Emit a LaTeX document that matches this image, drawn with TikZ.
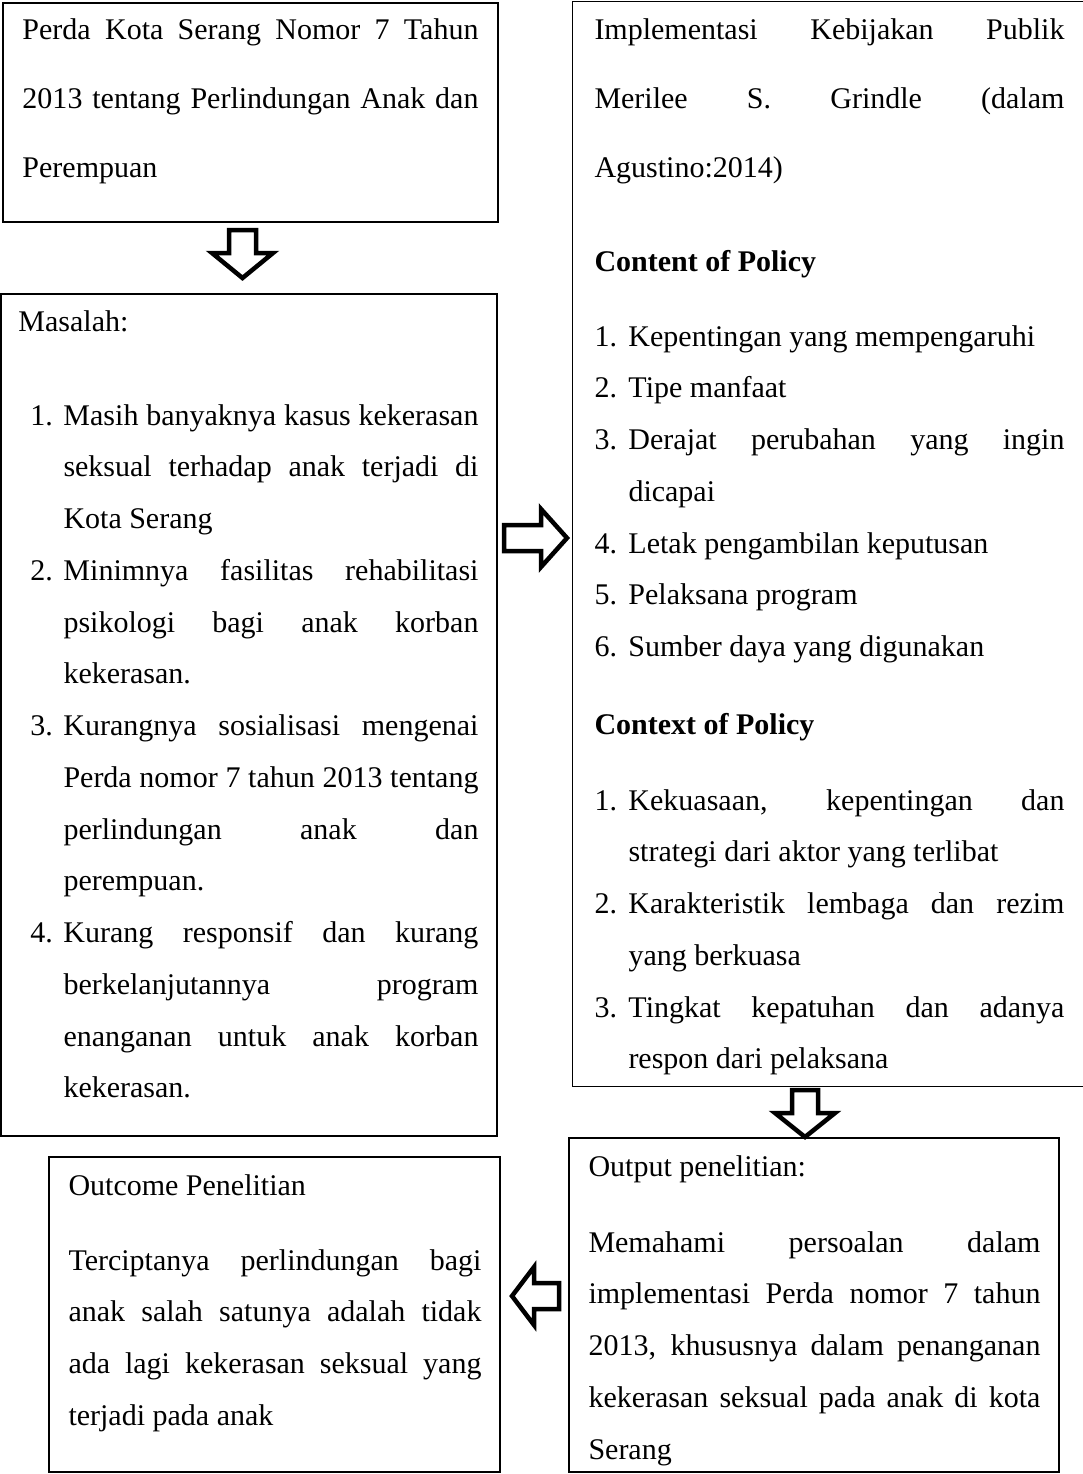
\documentclass[tikz,border=0pt]{standalone}
\usepackage{fontspec}
\setmainfont{Liberation Serif}
\usetikzlibrary{fit}
\newlength\lind
\newcommand\litem[2]{\par\hangindent=\lind\hangafter=1\noindent\makebox[\lind][l]{#1}#2\par}
\newcommand\jpar[2]{\parbox[t]{#1}{\hyphenpenalty=10000 \exhyphenpenalty=10000 \tolerance=10000 \hbadness=10000 #2}}
\begin{document}
\begin{tikzpicture}[x=0.4pt,y=-0.4pt,
  box/.style={draw, line width=0.7pt, inner sep=0pt},
  blockarrow/.style={draw, line width=1.8pt, line join=miter, fill=white},
  txt/.style={anchor=base west, inner sep=0pt, font=\fontsize{12pt}{20.7pt}\selectfont}]
\useasboundingbox (0,0) rectangle (1083,1474);

% boxes
\node[box, fit={(3,3) (498,222)}] (A) {};
\node[box, fit={(1,294) (497,1136)}] (B) {};
\node[inner sep=0pt, fit={(573,2) (1083,1086)}] (C) {};
\draw[line width=0.7pt] (C.north east) -- (C.north west) -- (C.south west) -- (C.south east);
\node[box, fit={(569,1138) (1059,1472)}] (D) {};
\node[box, fit={(49,1157) (500,1472)}] (E) {};

% block arrows
\draw[blockarrow] (229,230) -- (256,230) -- (256,253) -- (273,253) -- (242.5,278) -- (212,253) -- (229,253) -- cycle;
\draw[blockarrow] (504,525) -- (541,525) -- (541,509) -- (567,538) -- (541,567) -- (541,551) -- (504,551) -- cycle;
\draw[blockarrow] (792,1090) -- (818,1090) -- (818,1113) -- (835,1113) -- (805,1137) -- (775,1113) -- (792,1113) -- cycle;
\draw[blockarrow] (559,1283) -- (534,1283) -- (534,1267) -- (512,1296) -- (534,1325) -- (534,1309) -- (559,1309) -- cycle;

% top-left box text
\node[txt] (tA) at (22,39) {\jpar{182.4pt}{\fontsize{12pt}{27.6pt}\selectfont
Perda Kota Serang Nomor 7 Tahun\linebreak
2013 tentang Perlindungan Anak dan\linebreak
Perempuan}};

% Masalah box text
\node[txt] (tB0) at (18,331) {Masalah:};
\node[txt] (tB) at (30,425) {\jpar{179.2pt}{\setlength\lind{13.2pt}%
\litem{1.}{Masih banyaknya kasus kekerasan\linebreak seksual terhadap anak terjadi di\linebreak Kota Serang}%
\litem{2.}{Minimnya fasilitas rehabilitasi\linebreak psikologi bagi anak korban\linebreak kekerasan.}%
\litem{3.}{Kurangnya sosialisasi mengenai\linebreak Perda nomor 7 tahun 2013 tentang\linebreak perlindungan anak dan\linebreak perempuan.}%
\litem{4.}{Kurang responsif dan kurang\linebreak berkelanjutannya program\linebreak enanganan untuk anak korban\linebreak kekerasan.}}};

% right box text
\node[txt] (tC1) at (594,39) {\jpar{188pt}{\fontsize{12pt}{27.6pt}\selectfont
Implementasi Kebijakan Publik\linebreak
Merilee S. Grindle (dalam\linebreak
Agustino:2014)}};
\node[txt] (tC2) at (594,271) {\textbf{Content of Policy}};
\node[txt] (tC3) at (594,346) {\jpar{188pt}{\setlength\lind{13.6pt}%
\litem{1.}{Kepentingan yang mempengaruhi}%
\litem{2.}{Tipe manfaat}%
\litem{3.}{Derajat perubahan yang ingin\linebreak dicapai}%
\litem{4.}{Letak pengambilan keputusan}%
\litem{5.}{Pelaksana program}%
\litem{6.}{Sumber daya yang digunakan}}};
\node[txt] (tC4) at (594,734) {\textbf{Context of Policy}};
\node[txt] (tC5) at (594,810) {\jpar{188pt}{\setlength\lind{13.6pt}%
\litem{1.}{Kekuasaan, kepentingan dan\linebreak strategi dari aktor yang terlibat}%
\litem{2.}{Karakteristik lembaga dan rezim\linebreak yang berkuasa}%
\litem{3.}{Tingkat kepatuhan dan adanya\linebreak respon dari pelaksana}}};

% output box text
\node[txt] (tD1) at (588,1176) {Output penelitian:};
\node[txt] (tD2) at (588,1252) {\jpar{180.8pt}{%
Memahami persoalan dalam\linebreak
implementasi Perda nomor 7 tahun\linebreak
2013, khususnya dalam penanganan\linebreak
kekerasan seksual pada anak di kota\linebreak
Serang}};

% outcome box text
\node[txt] (tE1) at (68,1195) {Outcome Penelitian};
\node[txt] (tE2) at (68,1270) {\jpar{165.2pt}{%
Terciptanya perlindungan bagi\linebreak
anak salah satunya adalah tidak\linebreak
ada lagi kekerasan seksual yang\linebreak
terjadi pada anak}};
\end{tikzpicture}
\end{document}
